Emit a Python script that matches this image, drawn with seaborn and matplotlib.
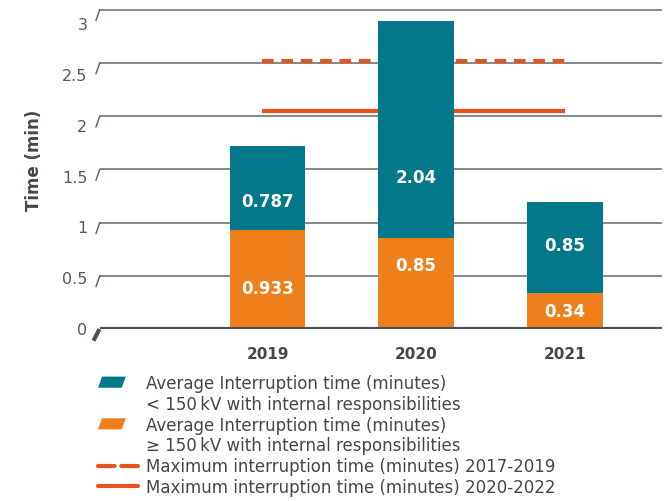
import matplotlib
matplotlib.use("Agg")
import matplotlib.pyplot as plt
import seaborn as sns
import pandas as pd
import numpy as np
from matplotlib.transforms import blended_transform_factory
from matplotlib.patches import Polygon, Patch
from matplotlib.lines import Line2D
from matplotlib.legend_handler import HandlerBase

# ---- data ----
years = ["2019", "2020", "2021"]
above_150kv = [0.933, 0.85, 0.34]     # orange, >= 150 kV
below_150kv = [0.787, 2.04, 0.85]     # teal, < 150 kV
max_2017_2019 = 2.52
max_2020_2022 = 2.05
y_ticks = [0, 0.5, 1, 1.5, 2, 2.5, 3]
y_tick_labels = ["0", "0.5", "1", "1.5", "2", "2.5", "3"]
legend_labels = [
    "Average Interruption time (minutes)",
    "< 150\u2009kV with internal responsibilities",
    "Average Interruption time (minutes)",
    "\u2265 150\u2009kV with internal responsibilities",
    "Maximum interruption time (minutes) 2017-2019",
    "Maximum interruption time (minutes) 2020-2022",
]

# ---- styles ----
TEAL = "#02788A"
ORANGE = "#EE7F1A"
RED = "#E8521F"
GRID = "#5E696E"
FLOOR = "#485257"
TEXT = "#41484C"
TICK = "#53595D"

sns.set_style("white")
plt.rcParams["font.family"] = ["DejaVu Sans"]

W, H = 668, 502
fig = plt.figure(figsize=(W / 100, H / 100), dpi=100)


def fx(px):
    return px / W


def fy(py):
    return 1 - py / H


YMAX = 3.02
# label axes (front plane, slightly different scale as in the reference)
lab = fig.add_axes([fx(100), fy(329), fx(662) - fx(100), (YMAX * 101.6) / H])
lab.set_ylim(0, YMAX)
lab.set_yticks(y_ticks)
lab.set_yticklabels(y_tick_labels)
lab.tick_params(axis="y", length=0, pad=9, labelsize=11.5, labelcolor=TICK)
lab.xaxis.set_visible(False)
lab.patch.set_visible(False)
for s in lab.spines.values():
    s.set_visible(False)
lab.set_ylabel("Time (min)", fontsize=12, fontweight="bold", color=TEXT)
lab.yaxis.set_label_coords((43 - 100) / 562, (329 - 160) / (YMAX * 101.6))

# main axes
ax = fig.add_axes([fx(100), fy(330), fx(662) - fx(100), (YMAX * 106.5) / H])
ax.patch.set_visible(False)

df = pd.DataFrame({"year": years, "above": above_150kv, "below": below_150kv})
sns.barplot(data=df, x="year", y="above", color=ORANGE, saturation=1,
            width=0.51, errorbar=None, ax=ax, zorder=2, linewidth=0)
sns.barplot(data=df, x="year", y="below", color=TEAL, saturation=1,
            width=0.51, errorbar=None, ax=ax, zorder=2, linewidth=0,
            bottom=np.array(above_150kv))

ax.set_ylim(0, YMAX)
ax.set_xlim(-1.128, 2.655)
ax.set_yticks(y_ticks[1:])
ax.yaxis.grid(True, color=GRID, lw=1.1)
ax.set_axisbelow(True)
ax.tick_params(axis="y", length=0, labelleft=False)
ax.tick_params(axis="x", length=0, pad=12, labelsize=11, labelcolor=TEXT)
for t in ax.get_xticklabels():
    t.set_fontweight("bold")
ax.set_xlabel("")
ax.set_ylabel("")
for s in ax.spines.values():
    s.set_visible(False)

# floor line
ax.axhline(0, color=FLOOR, lw=3, zorder=3, solid_capstyle="butt")

# slanted tick marks at left wall
tr = blended_transform_factory(fig.transFigure, ax.transData)
for v in y_ticks[1:]:
    ax.plot([fx(96), fx(99.8)], [v - 11 / 106.5, v], transform=tr,
            color=GRID, lw=1.1, clip_on=False)
ax.plot([fx(93.5), fx(99.5)], [-0.11, 0.0], transform=tr, color=FLOOR,
        lw=3, clip_on=False, solid_capstyle="butt")

# maximum lines (behind bars)
xs = [-0.04, len(years) - 1]
ax.plot(xs, [max_2017_2019] * 2, color=RED, lw=3, zorder=1,
        linestyle=(0, (2.8, 1.85)), solid_capstyle="butt", dash_capstyle="butt")
ax.plot(xs, [max_2020_2022] * 2, color=RED, lw=3, zorder=1,
        solid_capstyle="butt")

# bar value labels
orange_lbl = ax.bar_label(ax.containers[0], labels=[str(v) for v in above_150kv],
                          label_type="center", color="white", fontsize=12,
                          fontweight="bold")
teal_lbl = ax.bar_label(ax.containers[1], labels=[str(v) for v in below_150kv],
                        label_type="center", color="white", fontsize=12,
                        fontweight="bold")
for ann, dy in zip(orange_lbl, [-6.5, 13.7, 0]):
    ann.xyann = (0, dy)
for ann, dy in zip(teal_lbl, [-9.4, -33.8, 1.8]):
    ann.xyann = (0, dy)


# legend
class ParaHandler(HandlerBase):
    def create_artists(self, legend, orig_handle, xdescent, ydescent,
                       width, height, fontsize, trans):
        w, h, s = 20.0, 8.0, 2.9
        x0 = -xdescent
        y0 = -ydescent + (height - h) / 2
        p = Polygon([(x0, y0), (x0 + w - s, y0), (x0 + w, y0 + h), (x0 + s, y0 + h)],
                    closed=True, facecolor=orig_handle.get_facecolor(),
                    edgecolor="none", transform=trans)
        return [p]


blank = Line2D([], [], color="none")
handles = [
    Patch(facecolor=TEAL), blank,
    Patch(facecolor=ORANGE), blank,
    Line2D([], [], color=RED, lw=3, linestyle=(0, (4.0, 1.6)), dash_capstyle="round"),
    Line2D([], [], color=RED, lw=3, solid_capstyle="round"),
]
fig.legend(handles, legend_labels, loc="upper left",
           bbox_to_anchor=(fx(98), fy(375)), frameon=False, fontsize=12,
           handlelength=2.4, handletextpad=0.5, labelspacing=0.17,
           borderpad=0, borderaxespad=0, labelcolor=TEXT,
           handler_map={Patch: ParaHandler()})

fig.savefig("out.png", dpi=100)
